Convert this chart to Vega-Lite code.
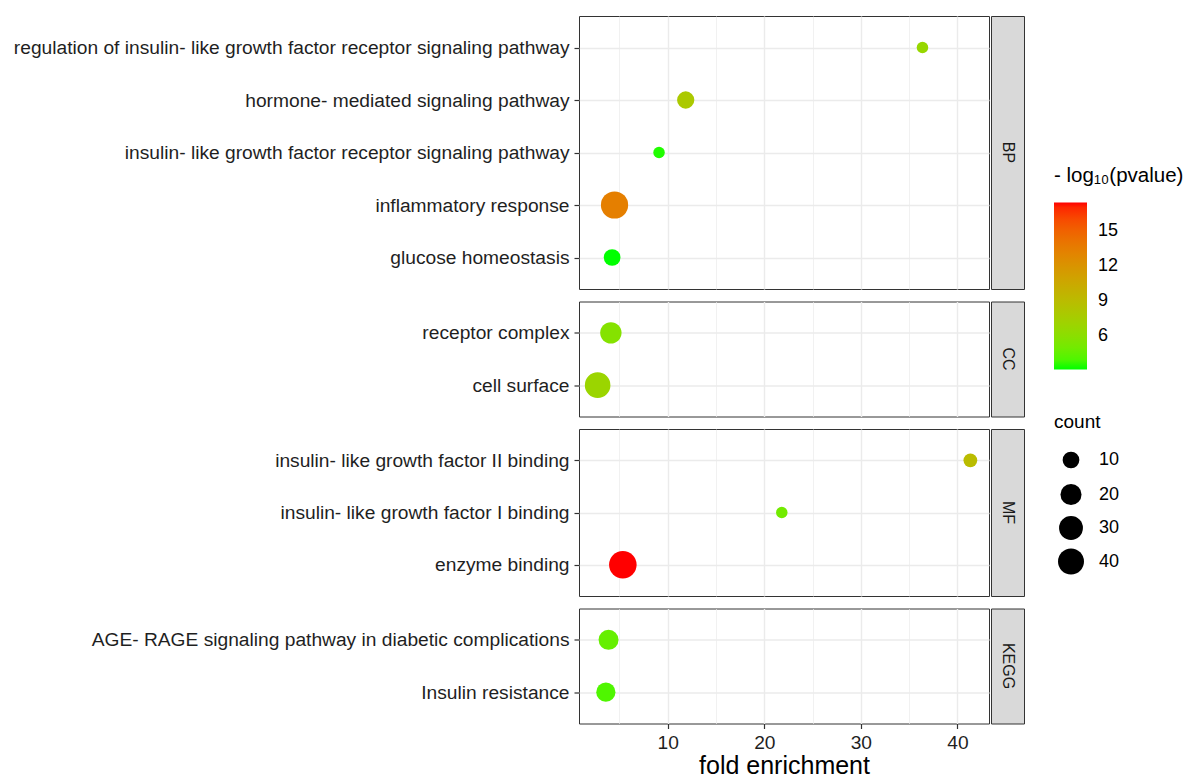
{
  "$schema": "https://vega.github.io/schema/vega-lite/v6.json",
  "padding": {"left": 10, "top": 15, "right": 5, "bottom": 0},
  "background": "white",
  "config": {
    "font": "Liberation Sans",
    "view": {"stroke": "#333333", "strokeWidth": 1},
    "axis": {
      "labelFont": "Liberation Sans",
      "labelFontSize": 19.2,
      "labelColor": "#1f1f1f",
      "tickColor": "#333333",
      "tickSize": 5,
      "tickWidth": 1.2,
      "labelPadding": 5,
      "gridColor": "#EBEBEB",
      "gridWidth": 1.4,
      "domain": false,
      "titleFont": "Liberation Sans",
      "titleFontWeight": "normal",
      "titleColor": "#000000"
    },
    "legend": {
      "titleFont": "Liberation Sans",
      "labelFont": "Liberation Sans",
      "titleFontWeight": "normal",
      "titleColor": "#000000",
      "labelColor": "#000000",
      "padding": 0
    }
  },
  "datasets": {
    "go": [
      {"panel": "BP", "term": "regulation of insulin- like growth factor receptor signaling pathway", "fe": 36.38, "count": 4, "p": 6.7},
      {"panel": "BP", "term": "hormone- mediated signaling pathway", "fe": 11.86, "count": 11, "p": 7.9},
      {"panel": "BP", "term": "insulin- like growth factor receptor signaling pathway", "fe": 9.1, "count": 4, "p": 3.3},
      {"panel": "BP", "term": "inflammatory response", "fe": 4.49, "count": 47, "p": 13.4},
      {"panel": "BP", "term": "glucose homeostasis", "fe": 4.24, "count": 10, "p": 3.15},
      {"panel": "CC", "term": "receptor complex", "fe": 4.11, "count": 21, "p": 5.8},
      {"panel": "CC", "term": "cell surface", "fe": 2.74, "count": 38, "p": 6.9},
      {"panel": "MF", "term": "insulin- like growth factor II binding", "fe": 41.34, "count": 6, "p": 9.0},
      {"panel": "MF", "term": "insulin- like growth factor I binding", "fe": 21.81, "count": 4, "p": 5.0},
      {"panel": "MF", "term": "enzyme binding", "fe": 5.35, "count": 49, "p": 17.43},
      {"panel": "KEGG", "term": "AGE- RAGE signaling pathway in diabetic complications", "fe": 3.87, "count": 17, "p": 4.6},
      {"panel": "KEGG", "term": "Insulin resistance", "fe": 3.59, "count": 15, "p": 4.0}
    ],
    "strips": [
      {"panel": "BP"}, {"panel": "CC"}, {"panel": "MF"}, {"panel": "KEGG"}
    ]
  },
  "spacing": 10.5,
  "vconcat": [
    {
      "spacing": 0,
      "hconcat": [
        {
          "width": 410, "height": 273,
          "data": {"name": "go"},
          "transform": [{"filter": "datum.panel === 'BP'"}],
          "mark": {"type": "circle", "opacity": 1},
          "encoding": {
            "x": {"field": "fe", "type": "quantitative", "scale": {"domain": [0.81, 43.27], "nice": false, "zero": false},
                  "axis": {"values": [5, 10, 15, 20, 25, 30, 35, 40], "labels": false, "ticks": false, "title": null,
                           "gridWidth": {"condition": {"test": "datum.value % 10 === 0", "value": 1.4}, "value": 0.7}}},
            "y": {"field": "term", "type": "nominal", "sort": "-x", "scale": {"padding": 0.6},
                  "axis": {"title": null, "grid": true, "minExtent": 568, "maxExtent": 568, "labelLimit": 0}},
            "color": {"field": "p", "type": "quantitative",
                      "scale": {"domain": [3.15, 17.43], "range": ["#00ff00", "#ff0000"], "interpolate": "lab", "nice": false, "zero": false},
                      "legend": {"title": "- log₁₀(pvalue)", "orient": "none", "legendX": 475, "legendY": 150, "values": [6, 9, 12, 15],
                                 "gradientLength": 167, "gradientThickness": 33, "gradientStrokeWidth": 0, "labelOffset": 11,
                                 "titleFontSize": 20.5, "labelFontSize": 18, "titlePadding": 16, "direction": "vertical"}},
            "size": {"field": "count", "type": "quantitative",
                     "scale": {"type": "sqrt", "domain": [4, 49], "range": [133, 760], "zero": false},
                     "legend": {"title": "count", "orient": "none", "legendX": 475, "legendY": 397, "values": [10, 20, 30, 40],
                                "symbolFillColor": "#000000", "symbolStrokeColor": "#000000", "symbolStrokeWidth": 0, "symbolOpacity": 1,
                                "symbolType": "circle", "titleFontSize": 19, "labelFontSize": 18, "labelOffset": 15, "symbolOffset": 4,
                                "gridAlign": "all", "rowPadding": 6.5, "titlePadding": 19}}
          }
        },
        {
          "width": 33, "height": 273,
          "view": {"fill": "#D9D9D9", "stroke": "#333333"},
          "data": {"name": "strips"},
          "transform": [{"filter": "datum.panel === 'BP'"}],
          "mark": {"type": "text", "angle": 90, "fontSize": 16, "color": "#1A1A1A", "font": "Liberation Sans", "align": "center", "baseline": "middle"},
          "encoding": {"text": {"field": "panel", "type": "nominal"}}
        }
      ]
    },
    {
      "spacing": 0,
      "hconcat": [
        {
          "width": 410, "height": 115,
          "data": {"name": "go"},
          "transform": [{"filter": "datum.panel === 'CC'"}],
          "mark": {"type": "circle", "opacity": 1},
          "encoding": {
            "x": {"field": "fe", "type": "quantitative", "scale": {"domain": [0.81, 43.27], "nice": false, "zero": false},
                  "axis": {"values": [5, 10, 15, 20, 25, 30, 35, 40], "labels": false, "ticks": false, "title": null,
                           "gridWidth": {"condition": {"test": "datum.value % 10 === 0", "value": 1.4}, "value": 0.7}}},
            "y": {"field": "term", "type": "nominal", "sort": "-x", "scale": {"padding": 0.6},
                  "axis": {"title": null, "grid": true, "minExtent": 568, "maxExtent": 568, "labelLimit": 0}},
            "color": {"field": "p", "type": "quantitative",
                      "scale": {"domain": [3.15, 17.43], "range": ["#00ff00", "#ff0000"], "interpolate": "lab", "nice": false, "zero": false}},
            "size": {"field": "count", "type": "quantitative",
                     "scale": {"type": "sqrt", "domain": [4, 49], "range": [133, 760], "zero": false}}
          }
        },
        {
          "width": 33, "height": 115,
          "view": {"fill": "#D9D9D9", "stroke": "#333333"},
          "data": {"name": "strips"},
          "transform": [{"filter": "datum.panel === 'CC'"}],
          "mark": {"type": "text", "angle": 90, "fontSize": 16, "color": "#1A1A1A", "font": "Liberation Sans", "align": "center", "baseline": "middle"},
          "encoding": {"text": {"field": "panel", "type": "nominal"}}
        }
      ]
    },
    {
      "spacing": 0,
      "hconcat": [
        {
          "width": 410, "height": 167,
          "data": {"name": "go"},
          "transform": [{"filter": "datum.panel === 'MF'"}],
          "mark": {"type": "circle", "opacity": 1},
          "encoding": {
            "x": {"field": "fe", "type": "quantitative", "scale": {"domain": [0.81, 43.27], "nice": false, "zero": false},
                  "axis": {"values": [5, 10, 15, 20, 25, 30, 35, 40], "labels": false, "ticks": false, "title": null,
                           "gridWidth": {"condition": {"test": "datum.value % 10 === 0", "value": 1.4}, "value": 0.7}}},
            "y": {"field": "term", "type": "nominal", "sort": "-x", "scale": {"padding": 0.6},
                  "axis": {"title": null, "grid": true, "minExtent": 568, "maxExtent": 568, "labelLimit": 0}},
            "color": {"field": "p", "type": "quantitative",
                      "scale": {"domain": [3.15, 17.43], "range": ["#00ff00", "#ff0000"], "interpolate": "lab", "nice": false, "zero": false}},
            "size": {"field": "count", "type": "quantitative",
                     "scale": {"type": "sqrt", "domain": [4, 49], "range": [133, 760], "zero": false}}
          }
        },
        {
          "width": 33, "height": 167,
          "view": {"fill": "#D9D9D9", "stroke": "#333333"},
          "data": {"name": "strips"},
          "transform": [{"filter": "datum.panel === 'MF'"}],
          "mark": {"type": "text", "angle": 90, "fontSize": 16, "color": "#1A1A1A", "font": "Liberation Sans", "align": "center", "baseline": "middle"},
          "encoding": {"text": {"field": "panel", "type": "nominal"}}
        }
      ]
    },
    {
      "spacing": 0,
      "hconcat": [
        {
          "width": 410, "height": 115,
          "data": {"name": "go"},
          "transform": [{"filter": "datum.panel === 'KEGG'"}],
          "mark": {"type": "circle", "opacity": 1},
          "encoding": {
            "x": {"field": "fe", "type": "quantitative", "scale": {"domain": [0.81, 43.27], "nice": false, "zero": false},
                  "axis": {"values": [5, 10, 15, 20, 25, 30, 35, 40], "title": "fold enrichment", "titleFontSize": 25, "titlePadding": 1,
                           "labelExpr": "datum.value % 10 === 0 ? datum.label : ''",
                           "tickOpacity": {"condition": {"test": "datum.value % 10 === 0", "value": 1}, "value": 0},
                           "gridWidth": {"condition": {"test": "datum.value % 10 === 0", "value": 1.4}, "value": 0.7}}},
            "y": {"field": "term", "type": "nominal", "sort": "-x", "scale": {"padding": 0.6},
                  "axis": {"title": null, "grid": true, "minExtent": 568, "maxExtent": 568, "labelLimit": 0}},
            "color": {"field": "p", "type": "quantitative",
                      "scale": {"domain": [3.15, 17.43], "range": ["#00ff00", "#ff0000"], "interpolate": "lab", "nice": false, "zero": false}},
            "size": {"field": "count", "type": "quantitative",
                     "scale": {"type": "sqrt", "domain": [4, 49], "range": [133, 760], "zero": false}}
          }
        },
        {
          "width": 33, "height": 115,
          "view": {"fill": "#D9D9D9", "stroke": "#333333"},
          "data": {"name": "strips"},
          "transform": [{"filter": "datum.panel === 'KEGG'"}],
          "mark": {"type": "text", "angle": 90, "fontSize": 16, "color": "#1A1A1A", "font": "Liberation Sans", "align": "center", "baseline": "middle"},
          "encoding": {"text": {"field": "panel", "type": "nominal"}}
        }
      ]
    }
  ]
}
